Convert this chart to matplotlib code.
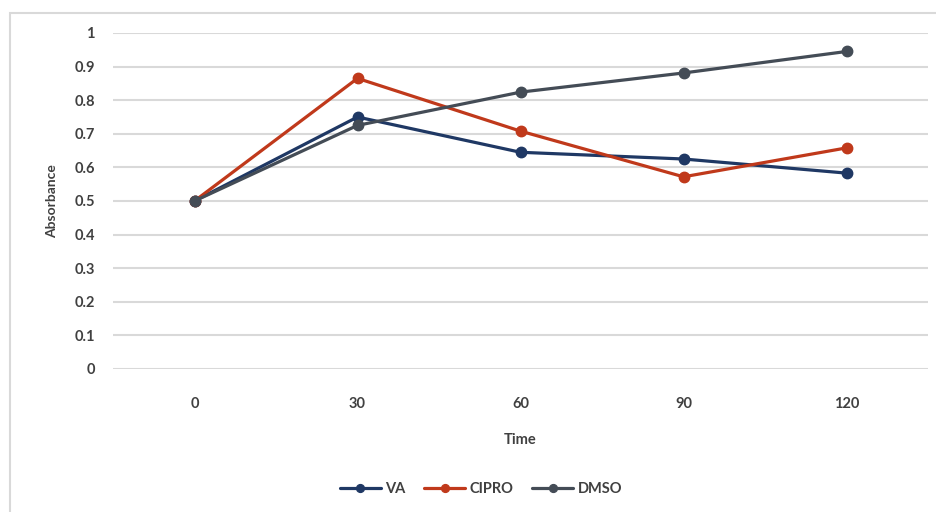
import matplotlib
matplotlib.use("Agg")
import matplotlib.pyplot as plt
from matplotlib.patches import Rectangle

categories = ["0", "30", "60", "90", "120"]
va = [0.50, 0.75, 0.645, 0.625, 0.583]
cipro = [0.50, 0.865, 0.708, 0.572, 0.658]
dmso = [0.50, 0.725, 0.824, 0.881, 0.945]
yticks = [0, 0.1, 0.2, 0.3, 0.4, 0.5, 0.6, 0.7, 0.8, 0.9, 1]
ytick_labels = ["0", "0.1", "0.2", "0.3", "0.4", "0.5", "0.6", "0.7", "0.8", "0.9", "1"]

plt.rcParams['font.family'] = ['Lato', 'DejaVu Sans']
txt = '#404040'

fig = plt.figure(figsize=(9.37, 5.12), dpi=100)
W, H = 937, 512
# outer chart border
fig.patches.append(Rectangle((10 / W, -0.05), 1.1, 1 - 13 / H + 0.05, transform=fig.transFigure,
                             fill=False, edgecolor='#d9d9d9', linewidth=1.5))

ax = fig.add_axes([113 / W, 1 - 369 / H, (928 - 113) / W, (369 - 33) / H])
x = list(range(len(categories)))
series = [("VA", va, '#1f3864'), ("CIPRO", cipro, '#c0391b'), ("DMSO", dmso, '#444c56')]
for name, vals, col in series:
    ax.plot(x, vals, color=col, linewidth=2.3, marker='o', markersize=7.5, label=name,
            solid_capstyle='round')

ax.set_xlim(-0.5, len(categories) - 0.5)
ax.set_ylim(0, 1)
ax.set_yticks(yticks)
ax.set_yticklabels(ytick_labels)
ax.set_xticks(x)
ax.set_xticklabels(categories)
ax.yaxis.grid(True, color='#d9d9d9', linewidth=1.5)
ax.set_axisbelow(True)
for s in ax.spines.values():
    s.set_visible(False)
ax.tick_params(axis='both', length=0, labelsize=10.5, labelcolor=txt)
ax.tick_params(axis='y', pad=13)
ax.tick_params(axis='x', pad=20)
for lab in ax.get_xticklabels() + ax.get_yticklabels():
    lab.set_fontweight('bold')

ax.set_xlabel("Time", fontsize=10.5, fontweight='bold', color=txt, labelpad=16)
ax.set_ylabel("Absorbance", fontsize=10, fontweight='bold', color=txt, labelpad=12)

leg = fig.legend(loc='center', bbox_to_anchor=(481 / W, 1 - 489 / H), ncol=3, frameon=False,
                 fontsize=10.5, handlelength=2.8, handletextpad=0.3, columnspacing=1.3,
                 markerscale=0.75)
for t in leg.get_texts():
    t.set_fontweight('bold')
    t.set_color(txt)

fig.savefig("out.png", dpi=100)
